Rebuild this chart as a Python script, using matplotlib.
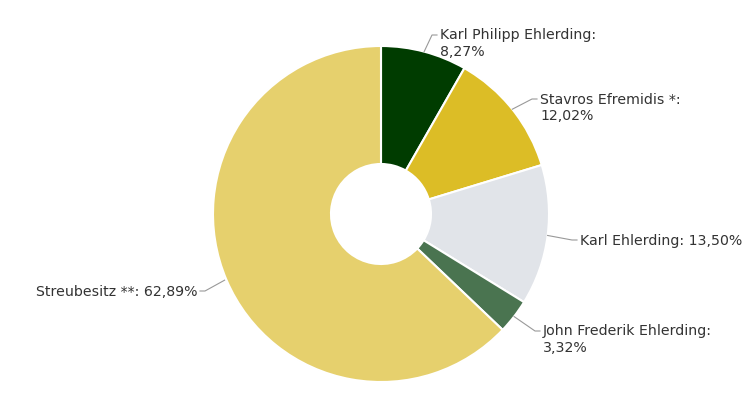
import numpy as np
import matplotlib.pyplot as plt

# shareholder structure
names = ["Karl Philipp Ehlerding", "Stavros Efremidis *", "Karl Ehlerding",
         "John Frederik Ehlerding", "Streubesitz **"]
shares = [8.27, 12.02, 13.50, 3.32, 62.89]
colors = ["#003c00", "#dcbd26", "#e1e4e9", "#4a7450", "#e6d06d"]
two_line = [True, True, False, True, False]

# label anchors (pixels, top-left origin): x of text edge, y of leader line
label_pos = [(440, 35), (540, 99), (580, 240), (543, 331), (197, 291)]

W, H = 752, 399
fig = plt.figure(figsize=(W / 100, H / 100), dpi=100)
ax = fig.add_axes([0, 0, 1, 1])

cx, cy, r = 381, H - 214, 168
wedges, _ = ax.pie(shares, colors=colors, startangle=90, counterclock=False,
                   center=(cx, cy), radius=r,
                   wedgeprops=dict(width=r - 50, edgecolor="white", linewidth=1.5))
ax.set_xlim(0, W)
ax.set_ylim(0, H)
ax.set_aspect("equal")
ax.axis("off")

total = sum(shares)
cum = 0
for name, val, tl, (tx, ty) in zip(names, shares, two_line, label_pos):
    mid = (cum + val / 2) / total * 2 * np.pi
    cum += val
    ux, uy = np.sin(mid), np.cos(mid)
    p0 = (cx + r * ux, cy + r * uy)
    ly = H - ty
    sep = "\n" if tl else " "
    txt = f"{name}:{sep}{val:.2f}%".replace(".", ",")
    if tx > cx:
        xs = [p0[0], tx - 8, tx - 3]
        ha = "left"
    else:
        xs = [p0[0] - 2, tx + 8, tx + 3]
        ha = "right"
    ax.plot(xs, [p0[1], ly, ly], color="#999999", lw=0.8)
    ax.text(tx, ly + 6.5, txt, ha=ha, va="top", fontsize=10.2, color="#333333",
            linespacing=1.2, family="DejaVu Sans")

fig.savefig("out.png", dpi=100)
